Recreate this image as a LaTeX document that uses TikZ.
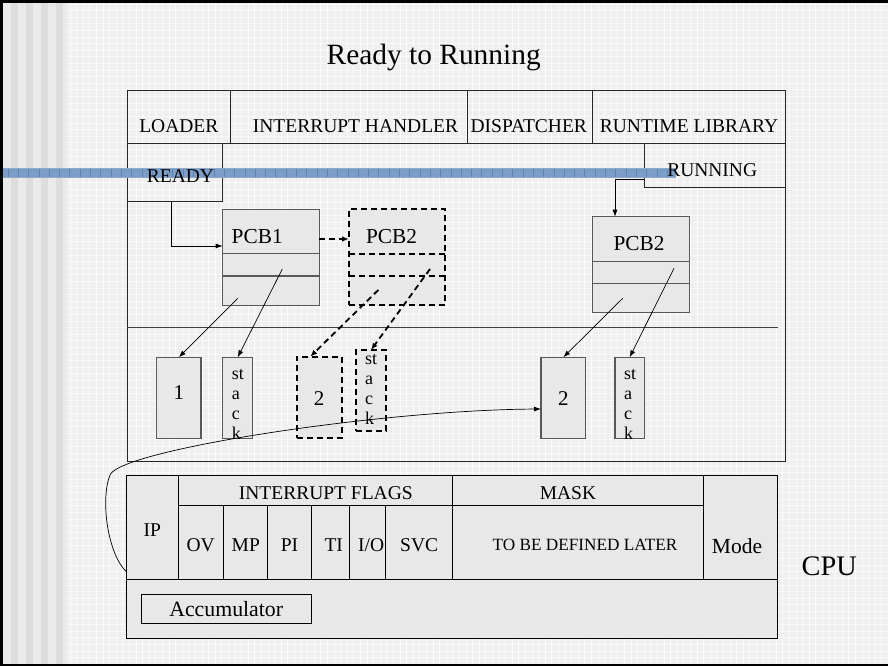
\documentclass[tikz,border=0pt]{standalone}
\usepackage{fontspec}
\setmainfont{Liberation Serif}
\usetikzlibrary{arrows.meta,calc}

\definecolor{pagebg}{HTML}{EFEFEF}
\definecolor{stripeA}{HTML}{EAEAEA}
\definecolor{stripeB}{HTML}{DDDDDD}
\definecolor{boxfill}{HTML}{E8E8E8}
\definecolor{bandblue}{HTML}{7C9DC8}
\definecolor{bandtick}{HTML}{5E82B3}

% rectangle node from its two corners: [style]{name}{x1}{y1}{x2}{y2}
\newcommand{\rectnode}[6][]{%
  \node[cellbox,#1,minimum width={#5-#3},minimum height={#6-#4}]
    (#2) at ({(#3+#5)/2},{(#4+#6)/2}) {};}

\tikzset{
  cellbox/.style={draw=black, fill=boxfill, line width=0.9pt, inner sep=0pt, outer sep=0pt},
  osbox/.style={draw=black!85, fill=none, line width=1pt},
  pcbbox/.style={draw=black!65, fill=boxfill, line width=1.1pt},
  dashbox/.style={draw=black, fill=boxfill, line width=1.8pt, dash pattern=on 6pt off 4pt},
  pcbline/.style={draw=black!65, line width=1.1pt},
  dashline/.style={draw=black, line width=1.8pt, dash pattern=on 6pt off 4pt},
  arr/.style={-{Latex[length=7pt,width=5pt]}, line width=0.7pt},
  darr/.style={-{Latex[length=7pt,width=5.5pt]}, line width=1.8pt, dash pattern=on 6pt off 4pt},
  lbl/.style={anchor=base, inner sep=0pt, font=\fontsize{19.5}{22}\selectfont},
  stk/.style={anchor=base west, inner sep=0pt, font=\fontsize{18}{20}\selectfont},
}

\begin{document}
\begin{tikzpicture}[x=1pt, y=-1pt]
\useasboundingbox (0,0) rectangle (888,666);

% ---- page background: light plaid, striped margin, frame ----
\fill[pagebg] (0,0) rectangle (888,666);
\foreach \gx in {70,76.6,...,888} {
  \draw[white, opacity=0.75, line width=0.8pt] (\gx,0) -- (\gx,666);
}
\foreach \gy in {4,10.6,...,666} {
  \draw[white, opacity=0.6, line width=0.6pt] (0,\gy) -- (888,\gy);
}
\foreach \i in {0,...,8} {
  \pgfmathsetmacro{\sx}{3+7.5*\i}
  \pgfmathparse{mod(\i,2)==0 ? "stripeA" : "stripeB"}
  \fill[\pgfmathresult] (\sx,0) rectangle ({min(\sx+7.5,67)},666);
}
\draw[line width=2.6pt] (1.3,666) -- (1.3,1.5) -- (888,1.5);
\draw[line width=2.2pt] (0,664.6) -- (888,664.6);

% ---- operating system memory area ----
\rectnode[osbox]{os}{127}{91}{785}{461}
\rectnode[osbox]{loader}{127}{91}{230.7}{143}
\rectnode[osbox]{ihandler}{230.7}{91}{467}{143}
\rectnode[osbox]{dispatch}{467}{91}{592.7}{143}
\rectnode[osbox]{runtime}{592.7}{91}{785}{143}
\rectnode[osbox]{ready}{127}{143}{222.7}{201.7}
\rectnode[osbox]{running}{644.3}{143}{785}{187.3}
\draw[black!75, line width=1pt] (127,327.7) -- (778.3,327.7);

% process control blocks
\rectnode[pcbbox]{pcb1}{222.7}{209.3}{319.3}{305.3}
\draw[pcbline] (222.7,253.7) -- (319.3,253.7);
\draw[pcbline] (222.7,276) -- (319.3,276);

\rectnode[dashbox]{dpcb}{349}{209.3}{445}{305.3}
\draw[dashline] (349,253.7) -- (445,253.7);
\draw[dashline] (349,276) -- (445,276);

\rectnode[pcbbox]{rpcb}{592.7}{216.7}{689.3}{312.7}
\draw[pcbline] (592.7,261.3) -- (689.3,261.3);
\draw[pcbline] (592.7,283.3) -- (689.3,283.3);

% program and stack areas
\rectnode[pcbbox]{prog1}{156.7}{357.3}{201}{438.3}
\rectnode[pcbbox]{stack1}{222.7}{357.3}{252.7}{438.3}
\rectnode[dashbox]{dprog2}{296.7}{356.7}{341.7}{438.3}
\rectnode[dashbox]{dstack2}{356}{350}{386}{430.7}
\rectnode[pcbbox]{prog2}{541}{357.3}{585.7}{438.3}
\rectnode[pcbbox]{stack2}{615}{357.3}{644.3}{438.3}

% ---- CPU ----
\rectnode{cpu}{126.7}{475.3}{777.7}{638.3}
\rectnode{ip}{126.7}{475.3}{178.3}{579}
\rectnode{flags}{178.3}{475.3}{452.3}{505}
\rectnode{ov}{178.3}{505}{223.3}{579}
\rectnode{mp}{223.3}{505}{267.7}{579}
\rectnode{pi}{267.7}{505}{311.7}{579}
\rectnode{ti}{311.7}{505}{349}{579}
\rectnode{io}{349}{505}{385.7}{579}
\rectnode{svc}{385.7}{505}{452.3}{579}
\rectnode{maskhdr}{452.3}{475.3}{703.3}{505}
\rectnode{maskbody}{452.3}{505}{703.3}{579}
\rectnode{mode}{703.3}{475.3}{777.7}{579}
\rectnode{acc}{141.7}{594}{311.7}{623.3}

% ---- highlight band ----
\fill[bandblue] (3,168.3) rectangle (676,177.3);
\foreach \tx in {8,18.3,...,676} {
  \draw[bandtick, line width=0.7pt] (\tx,168.3) -- (\tx,177.3);
}
\draw[bandtick!70, line width=0.5pt] (3,168.6) -- (676,168.6);
\draw[bandtick!70, line width=0.5pt] (3,177) -- (676,177);

% ---- connectors ----
\draw[arr] ([xshift=-3.6pt]ready.south) |- ([yshift=11.3pt]pcb1.west);
\draw[arr] ([yshift=-14.1pt]running.west) -| ([xshift=-26pt]rpcb.north);
\draw[darr] ([yshift=18.3pt]pcb1.east) -- ([yshift=18.3pt]dpcb.west);

\coordinate (p1prog) at (237.7,298.3);
\coordinate (p1stack) at (282.3,269);
\draw[arr] (p1prog) -- (prog1.north);
\draw[arr] (p1stack) -- (stack1.north);

\coordinate (dpprog) at (378.3,290);
\coordinate (dpstack) at (430,269);
\draw[darr] (dpprog) -- ([xshift=-9pt]dprog2.north);
\draw[darr] (dpstack) -- (dstack2.north);

\coordinate (rpprog) at (622.7,298.3);
\coordinate (rpstack) at (674,268.3);
\draw[arr] (rpprog) -- (prog2.north);
\draw[arr] (rpstack) -- (stack2.north);

\draw[arr] ([yshift=7pt]ip.south west)
  .. controls (108,555) and (100,500) .. (110,475)
  .. controls (120,450) and (380,410) .. ([yshift=-11.2pt]prog2.west);

% ---- texts ----
\node[anchor=base, inner sep=0pt, font=\fontsize{29.4}{34}\selectfont] (title) at (433.7,65) {Ready to Running};

\node[lbl] (tloader) at (178.8,132.5) {LOADER};
\node[lbl] (tihandler) at (355.5,132.5) {INTERRUPT HANDLER};
\node[lbl] (tdispatch) at (528.8,132.5) {DISPATCHER};
\node[lbl] (truntime) at (689,132.5) {RUNTIME LIBRARY};
\node[lbl] (tready) at (180.5,182.8) {READY};
\node[lbl] (trunning) at (712.2,176) {RUNNING};

\node[lbl, font=\fontsize{21.3}{24}\selectfont] (tpcb1) at (257.2,243.3) {PCB1};
\node[lbl, font=\fontsize{21.3}{24}\selectfont] (tdpcb) at (391.5,243.3) {PCB2};
\node[lbl, font=\fontsize{21.3}{24}\selectfont] (trpcb) at (639,250.7) {PCB2};

\node[lbl, font=\fontsize{21}{24}\selectfont] (tprog1) at (178.8,399) {1};
\node[lbl, font=\fontsize{21}{24}\selectfont] (tdprog2) at (319.2,405) {2};
\node[lbl, font=\fontsize{21}{24}\selectfont] (tprog2) at (563.3,405) {2};

\foreach \ch/\k [count=\n from 0] in {st/a,a/b,c/c,k/d} {
  \node[stk] (sa\k) at (231.7,379.3+20*\n) {\ch};
  \node[stk] (sb\k) at (365,364+20*\n) {\ch};
  \node[stk] (sc\k) at (624,379.3+20*\n) {\ch};
}

\node[lbl] (tip) at (152.3,536) {IP};
\node[lbl] (tflags) at (325.8,499) {INTERRUPT FLAGS};
\node[lbl] (tov) at (200.7,551.7) {OV};
\node[lbl] (tmp) at (245.8,551.7) {MP};
\node[lbl] (tpi) at (289.5,551.7) {PI};
\node[lbl] (tti) at (333.7,551.7) {TI};
\node[lbl] (tio) at (371.2,551.7) {I/O};
\node[lbl] (tsvc) at (419.2,551.7) {SVC};
\node[lbl] (tmask) at (568,499) {MASK};
\node[lbl, font=\fontsize{17.2}{20}\selectfont] (tlater) at (585,550) {TO BE DEFINED LATER};
\node[lbl, font=\fontsize{21.5}{24}\selectfont] (tmode) at (737,553.3) {Mode};
\node[lbl, font=\fontsize{21.8}{24}\selectfont] (tacc) at (226.2,616.7) {Accumulator};
\node[lbl, font=\fontsize{28.3}{32}\selectfont] (tcpu) at (829.2,575) {CPU};
\end{tikzpicture}
\end{document}
